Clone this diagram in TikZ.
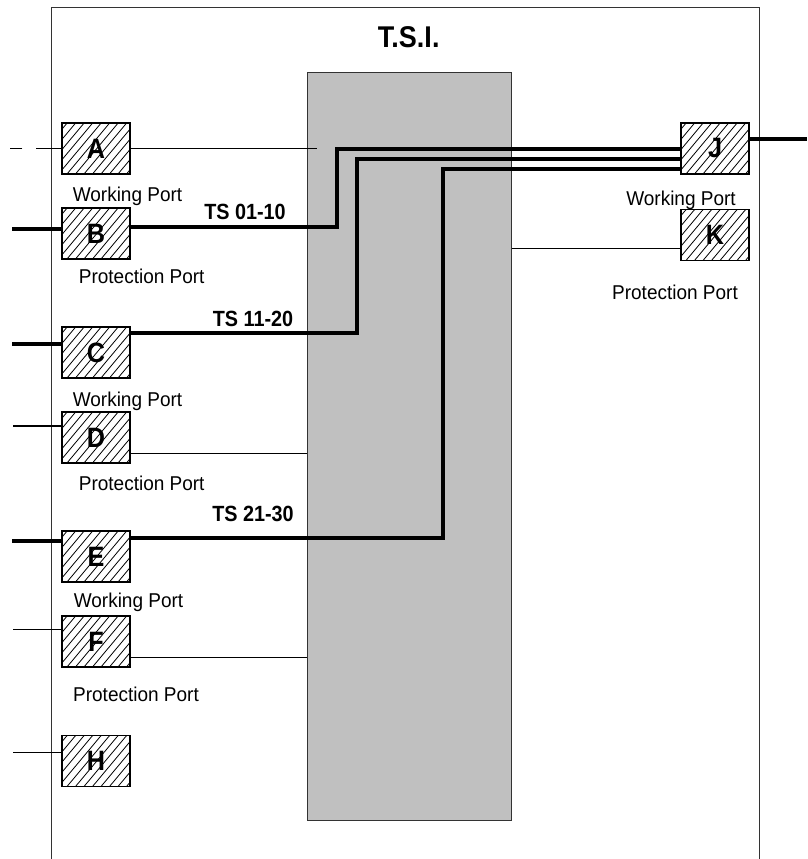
\documentclass[tikz,border=0pt]{standalone}
\usepackage{fontspec}
\setmainfont{Liberation Sans}
\newfontfamily\lblfont[FakeStretch=0.95]{Liberation Sans}
\newfontfamily\tsfont[FakeStretch=0.9]{Liberation Sans}
\definecolor{shade}{HTML}{C0C0C0}
\definecolor{edge}{HTML}{333333}
\begin{document}
\begin{tikzpicture}[x=1pt,y=-1pt,
  port/.style={draw=black, line width=1.2pt, minimum width=68pt, minimum height=51pt, inner sep=0pt,
    font=\tsfont\fontsize{28}{28}\selectfont\bfseries,
    path picture={\foreach \k in {-46,-37.5,...,72}{\draw[line width=0.8pt] ([xshift=\k pt]path picture bounding box.south west) -- ++(51pt,61pt);}}},
  lbl/.style={anchor=base, font=\lblfont\fontsize{20}{24}\selectfont},
  tslbl/.style={anchor=base, font=\tsfont\bfseries\fontsize{22}{24}\selectfont},
  wire/.style={line width=1.2pt},
  bus/.style={line width=4pt}]
\useasboundingbox (0,0) rectangle (807,859);
% outer frame
\draw[edge, line width=1pt] (51,880) -- (51,8) -- (759,8) -- (759,880);
\node[font=\tsfont\bfseries\fontsize{30}{32}\selectfont] (title) at (408.7,37) {T.S.I.};
% core
\node[draw=edge, line width=1pt, fill=shade, minimum width=204pt, minimum height=748pt, inner sep=0pt, anchor=north west] (core) at (307,72) {};
% ports
\node[port] (A) at (96,148.5) {A};
\node[port] (B) at (96,233.5) {B};
\node[port] (C) at (96,352.5) {C};
\node[port] (D) at (96,437.5) {D};
\node[port] (E) at (96,556.5) {E};
\node[port] (F) at (96,641.5) {F};
\node[port] (H) at (96,761) {H};
\node[port] (J) at (715,148.5) {J};
\node[port] (K) at (715,235) {K};
% labels
\node[lbl] (la) at (127.5,201.7) {Working Port};
\node[lbl] (lb) at (141.7,283.3) {Protection Port};
\node[lbl] (lc) at (127.5,406) {Working Port};
\node[lbl] (ld) at (141.7,490) {Protection Port};
\node[lbl] (le) at (128.5,607) {Working Port};
\node[lbl] (lf) at (136,701.7) {Protection Port};
\node[lbl] (lj) at (681,205) {Working Port};
\node[lbl] (lk) at (675,299.3) {Protection Port};
\node[tslbl] (t1) at (245,219) {TS 01-10};
\node[tslbl] (t2) at (253,326.7) {TS 11-20};
\node[tslbl] (t3) at (253,521) {TS 21-30};
% free ends
\coordinate (a0) at (10,148.5);
\coordinate (a1) at (317,148.5);
\coordinate (b0) at (12,229);
\coordinate (c0) at (12,344);
\coordinate (e0) at (12,540.7);
\coordinate (d0) at (13,426);
\coordinate (f0) at (13,629.3);
\coordinate (h0) at (13,752.3);
\coordinate (j0) at (807,139.3);
% thin wires
\draw[wire, dash pattern=on 25pt off 14pt] (A.west) -- (a0);
\draw[wire] (A.east) -- (a1);
\draw[wire] (d0) -- ([yshift=11.5pt]D.west);
\draw[wire] (f0) -- ([yshift=12.2pt]F.west);
\draw[wire] (h0) -- ([yshift=8.7pt]H.west);
\coordinate (d1) at ([yshift=-15.8pt]D.east);
\coordinate (f1) at ([yshift=-15.8pt]F.east);
\coordinate (k1) at ([yshift=-13.3pt]K.west);
\draw[wire] (d1) -- (d1 -| core.west);
\draw[wire] (f1) -- (f1 -| core.west);
\draw[wire] (k1) -- (k1 -| core.east);
% thick buses
\draw[bus] (b0) -- ([yshift=4.5pt]B.west);
\draw[bus] (c0) -- ([yshift=8.5pt]C.west);
\draw[bus] (e0) -- ([yshift=15.8pt]E.west);
\draw[bus] ([yshift=9.2pt]J.east) -- (j0);
\draw[bus] ([yshift=6.5pt]B.east) -- (337,227) -- (337,148.5) -- (J.west);
\draw[bus] ([yshift=19.5pt]C.east) -- (357,333) -- (357,158.5) -- ([yshift=-10pt]J.west);
\draw[bus] ([yshift=18.8pt]E.east) -- (442.7,537.7) -- (442.7,168.5) -- ([yshift=-20pt]J.west);
\end{tikzpicture}
\end{document}
